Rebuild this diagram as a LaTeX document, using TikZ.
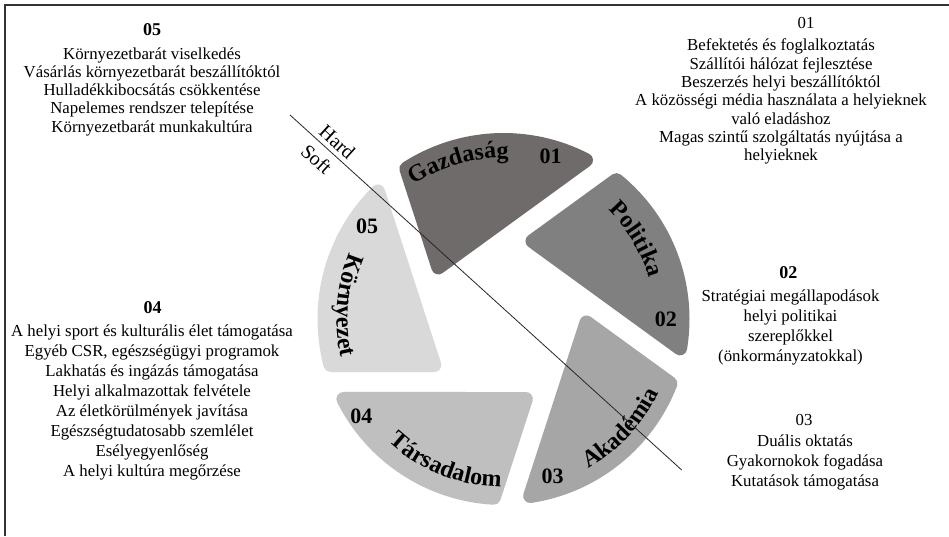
\documentclass[tikz,border=0pt]{standalone}
\usepackage{fontspec}
\setmainfont{Liberation Serif}
\usetikzlibrary{decorations.text}

\definecolor{gazd}{HTML}{706B6B}
\definecolor{poli}{HTML}{808080}
\definecolor{akad}{HTML}{A6A6A6}
\definecolor{tars}{HTML}{BFBFBF}
\definecolor{korny}{HTML}{D9D9D9}

\newcommand\bladefont{\bfseries\fontsize{24}{24}\selectfont}

\begin{document}
\begin{tikzpicture}[x=1pt,y=1pt,
  blade/.style={line width=14pt, line join=round},
  num/.style={font=\bfseries\fontsize{22}{22}\selectfont, inner sep=0pt},
  head/.style={font=\bfseries\fontsize{18}{18}\selectfont, inner sep=0pt},
  headplain/.style={font=\fontsize{16.8}{16.8}\selectfont, inner sep=0pt},
  listbox/.style={align=center, inner sep=0pt, font=\fontsize{16.8}{#1}\selectfont},
  listbox/.default=18.3,
  divider/.style={line width=0.8pt, black!85},
  framestroke/.style={line width=1.3pt, black!80},
  sidetag/.style={font=\fontsize{20}{20}\selectfont, inner sep=0pt, rotate=-42.2}]

% canvas
\fill[white] (0,0) rectangle (949,536);
\useasboundingbox (0,0) rectangle (949,536);
\draw[framestroke] (949,531) -- (5,531) -- (5,0);

% geometry of the aperture
\coordinate (C) at (503.5,217);
\def\Rout{186}
\def\dd{73}
\def\gap{20}
\def\rc{7}
\pgfmathsetmacro\ra{\dd+\rc}
\pgfmathsetmacro\rb{\dd-\gap-\rc}
\pgfmathsetmacro\rin{\Rout-\rc}
\pgfmathsetmacro\angA{-90-acos(\ra/\rin)}
\pgfmathsetmacro\angB{-18-acos(\rb/\rin)}
\pgfmathsetmacro\vx{(\rb-\ra*sin(18))/cos(18)}
\pgfmathsetmacro\vy{-\ra}

% five blades, each a rotated copy of the lower-left one
\foreach \k/\col in {0/tars,1/akad,2/poli,3/gazd,4/korny}{
  \begin{scope}[shift={(C)}, rotate=72*\k]
    \fill[blade, fill=\col, draw=\col] (\vx,\vy) -- (\angA:\rin)
      arc[start angle=\angA, end angle=\angB, radius=\rin] -- cycle;
  \end{scope}
}

% blade titles along the rim
\begin{scope}[shift={(C)}]
  \path[decorate, decoration={text along path, text align=center,
        text={|\bladefont|Gazdaság}}]
    (141:161) arc[start angle=141, end angle=71, radius=161];
  \path[decorate, decoration={text along path, text align=center,
        text={|\bladefont|Politika}}]
    (66:151) arc[start angle=66, end angle=-4, radius=151];
  \path[decorate, decoration={text along path, text align=center,
        text={|\bladefont|Akadémia}}]
    (-78:172) arc[start angle=-78, end angle=-8, radius=172];
  \path[decorate, decoration={text along path, text align=center,
        text={|\bladefont|Társadalom}}]
    (-147:168) arc[start angle=-147, end angle=-77, radius=168];
  \path[decorate, decoration={text along path, text align=center,
        text={|\bladefont|Környezet}}]
    (140:167) arc[start angle=140, end angle=210, radius=167];
\end{scope}

% blade numbers
\node[num] (n01) at (550.5,380.2) {01};
\node[num] (n02) at (665.8,216.8) {02};
\node[num] (n03) at (552.5,59.3) {03};
\node[num] (n04) at (361.3,119.3) {04};
\node[num] (n05) at (367.2,309.8) {05};

% hard / soft divider
\coordinate (hs1) at (290,421);
\coordinate (hs2) at (681.7,66);
\draw[divider] (hs1) -- (hs2);
\node[sidetag] (hard) at (337.3,394.3) {Hard};
\node[sidetag] (soft) at (316.7,376.7) {Soft};

% descriptions
\node[head] (h05) at (152,506) {05};
\node[listbox] (l05) at (152,444.4) {Környezetbarát viselkedés\\
  Vásárlás környezetbarát beszállítóktól\\
  Hulladékkibocsátás csökkentése\\
  Napelemes rendszer telepítése\\
  Környezetbarát munkakultúra};

\node[headplain] (h01) at (806,513) {01};
\node[listbox] (l01) at (781,434.3) {Befektetés és foglalkoztatás\\
  Szállítói hálózat fejlesztése\\
  Beszerzés helyi beszállítóktól\\
  A közösségi média használata a helyieknek\\
  való eladáshoz\\
  Magas szintű szolgáltatás nyújtása a\\
  helyieknek};

\node[head] (h02) at (788.3,263) {02};
\node[listbox=20.3] (l02) at (790.5,208.5) {Stratégiai megállapodások\\
  helyi politikai\\
  szereplőkkel\\
  (önkormányzatokkal)};

\node[headplain] (h03) at (804,116) {03};
\node[listbox=20] (l03) at (805,74) {Duális oktatás\\
  Gyakornokok fogadása\\
  Kutatások támogatása};

\node[head] (h04) at (152.5,228) {04};
\node[listbox=20] (l04) at (152,134) {A helyi sport és kulturális élet támogatása\\
  Egyéb CSR, egészségügyi programok\\
  Lakhatás és ingázás támogatása\\
  Helyi alkalmazottak felvétele\\
  Az életkörülmények javítása\\
  Egészségtudatosabb szemlélet\\
  Esélyegyenlőség\\
  A helyi kultúra megőrzése};

\end{tikzpicture}
\end{document}
